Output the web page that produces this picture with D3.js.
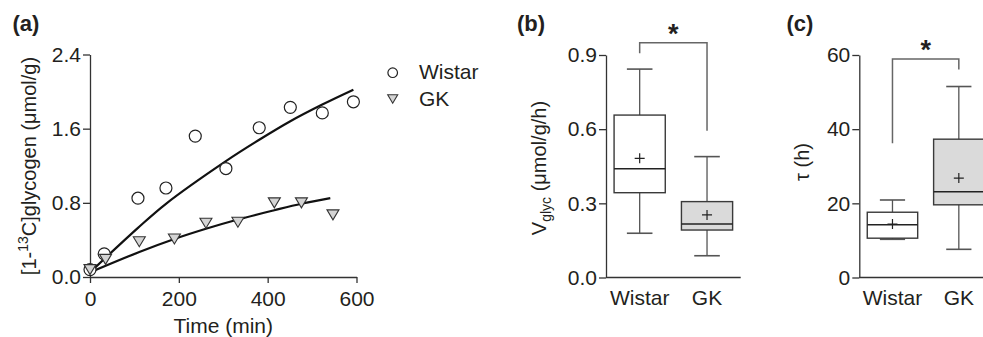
<!DOCTYPE html>
<html>
<head>
<meta charset="utf-8">
<script src="https://cdn.jsdelivr.net/npm/d3@7"></script>
<style>
  body { margin: 0; background: #fff; }
  svg { display: block; font-family: "Liberation Sans", Arial, sans-serif; }
</style>
</head>
<body>
<svg width="983" height="337"></svg>
<script>
// panel (a) data: 13C glycogen vs time
const timesWistar = [0, 32, 108, 171, 237, 306, 381, 451, 523, 593];
const glycWistar = [0.08, 0.25, 0.85, 0.96, 1.52, 1.17, 1.61, 1.83, 1.77, 1.89];
const timesGK = [0, 35, 111, 190, 261, 333, 415, 476, 547];
const glycGK = [0.08, 0.19, 0.38, 0.41, 0.58, 0.59, 0.80, 0.80, 0.67];

// fitted curves
const fitTimesWistar = [0, 108, 171, 306, 381, 451, 523, 593];
const fitWistar = [0.05, 0.53, 0.79, 1.25, 1.48, 1.68, 1.86, 2.02];
const fitTimesGK = [0, 111, 190, 261, 333, 415, 476, 541];
const fitGK = [0.05, 0.27, 0.41, 0.52, 0.62, 0.72, 0.79, 0.85];

const groups = ["Wistar", "GK"];

// panel (b) Vglyc box stats: [low, q1, median, q3, high]
const vglycBox = [[0.179, 0.343, 0.440, 0.657, 0.843], [0.088, 0.192, 0.216, 0.307, 0.489]];
const vglycMean = [0.482, 0.253];
const vglycBracket = [0.907, 0.95, 0.594]; // left leg end, top, right leg end

// panel (c) tau box stats
const tauBox = [[10.3, 10.6, 14.2, 17.6, 20.9], [7.6, 19.6, 23.1, 37.3, 51.5]];
const tauMean = [14.4, 26.8];
const tauBracket = [36.2, 58.9, 56.1];

const textColor = "#231f20";
const lineColor = "#333";

let svg = d3.select("svg");

function styleAxis(g) {
    g.select(".domain").attr("stroke", lineColor).attr("stroke-width", 1.3);
    g.selectAll(".tick line").attr("stroke", lineColor).attr("stroke-width", 1.3);
    g.selectAll(".tick text")
        .attr("fill", textColor)
        .style("font-size", "21px")
        .style("font-family", "'Liberation Sans', Arial, sans-serif");
}

function triPath(w, h) {
    return "M" + (-w / 2) + "," + (-h / 2) + "L" + (w / 2) + "," + (-h / 2) + "L0," + (h / 2) + "Z";
}

function panelLabel(x, txt) {
    svg.append("text")
        .attr("x", x).attr("y", 30.5)
        .style("font-size", "22px")
        .style("font-weight", "bold")
        .attr("fill", textColor)
        .text(txt);
}

// ---------------- panel (a) ----------------
var x = d3.scaleLinear().domain([0, 600]).range([90, 356.5]);
var y = d3.scaleLinear().domain([0, 2.4]).range([277, 54.5]);

svg.append("g")
    .attr("transform", "translate(0," + y(0) + ")")
    .call(d3.axisBottom(x).tickValues([0, 200, 400, 600]).tickSize(6).tickPadding(8).tickSizeOuter(0))
    .call(styleAxis);

svg.append("g")
    .attr("transform", "translate(" + x(0) + ",0)")
    .call(d3.axisLeft(y).tickValues([0, 0.8, 1.6, 2.4]).tickFormat(d3.format(".1f")).tickSize(7).tickPadding(2).tickSizeOuter(0))
    .call(styleAxis);

svg.append("text")
    .attr("x", (x(0) + x(600)) / 2).attr("y", 333)
    .style("text-anchor", "middle")
    .style("font-size", "21px")
    .attr("fill", textColor)
    .text("Time (min)");

let yl = svg.append("text")
    .attr("transform", "translate(36," + 166 + ") rotate(-90)")
    .style("text-anchor", "middle")
    .style("font-size", "20px")
    .attr("fill", textColor);
yl.append("tspan").text("[1-");
yl.append("tspan").attr("dy", -8).style("font-size", "14px").text("13");
yl.append("tspan").attr("dy", 8).text("C]glycogen (\u03bcmol/g)");

let line = d3.line().x(d => x(d[0])).y(d => y(d[1])).curve(d3.curveCatmullRom);

svg.append("path")
    .datum(d3.zip(fitTimesWistar, fitWistar))
    .attr("d", line)
    .attr("fill", "none").attr("stroke", "#111").attr("stroke-width", 2.2);

svg.append("path")
    .datum(d3.zip(fitTimesGK, fitGK))
    .attr("d", line)
    .attr("fill", "none").attr("stroke", "#111").attr("stroke-width", 2.2);

svg.selectAll("circle.wistar")
    .data(d3.zip(timesWistar, glycWistar))
    .enter()
    .append("circle")
    .attr("class", "wistar")
    .attr("cx", d => x(d[0]))
    .attr("cy", d => y(d[1]))
    .attr("r", 6)
    .attr("fill", "#fff")
    .attr("stroke", "#222")
    .attr("stroke-width", 1.2);

svg.selectAll("path.gk")
    .data(d3.zip(timesGK, glycGK))
    .enter()
    .append("path")
    .attr("class", "gk")
    .attr("transform", d => "translate(" + x(d[0]) + "," + y(d[1]) + ")")
    .attr("d", triPath(12, 10))
    .attr("fill", "#d4d4d4")
    .attr("stroke", "#333")
    .attr("stroke-width", 1.1);

// legend
svg.append("circle")
    .attr("cx", 392.7).attr("cy", 72.7).attr("r", 4.8)
    .attr("fill", "#fff").attr("stroke", "#222").attr("stroke-width", 1.2);
svg.append("path")
    .attr("transform", "translate(392.7,99)")
    .attr("d", triPath(10, 8.5))
    .attr("fill", "#d4d4d4").attr("stroke", "#333").attr("stroke-width", 1.1);
svg.append("text").attr("x", 419).attr("y", 78.5)
    .style("font-size", "21px").attr("fill", textColor).text(groups[0]);
svg.append("text").attr("x", 419).attr("y", 105.5)
    .style("font-size", "21px").attr("fill", textColor).text(groups[1]);

panelLabel(12.5, "(a)");

// ---------------- box panels ----------------
function boxPanel(x0, x1, domain, ticks, fmt, boxes, means, bracket, starY) {
    var bx = d3.scaleBand().domain(groups).range([x0, x1]).paddingInner(0.24).paddingOuter(0.12);
    var by = d3.scaleLinear().domain(domain).range([277.5, 55]);

    svg.append("g")
        .attr("transform", "translate(0," + by(0) + ")")
        .call(d3.axisBottom(bx).tickSize(0).tickPadding(13))
        .call(styleAxis)
        .call(g => g.select(".domain").attr("d", "M" + x0 + ",0H" + x1));

    svg.append("g")
        .attr("transform", "translate(" + x0 + ",0)")
        .call(d3.axisLeft(by).tickValues(ticks).tickFormat(fmt).tickSize(7).tickPadding(2).tickSizeOuter(0))
        .call(styleAxis);

    let bw = bx.bandwidth();
    groups.forEach((grp, i) => {
        let s = boxes[i];
        let cx = bx(grp) + bw / 2;
        let g = svg.append("g");
        // whiskers
        g.append("line").attr("x1", cx).attr("x2", cx).attr("y1", by(s[0])).attr("y2", by(s[1]))
            .attr("stroke", "#555").attr("stroke-width", 1.3);
        g.append("line").attr("x1", cx).attr("x2", cx).attr("y1", by(s[3])).attr("y2", by(s[4]))
            .attr("stroke", "#555").attr("stroke-width", 1.3);
        g.append("line").attr("x1", cx - bw / 4).attr("x2", cx + bw / 4).attr("y1", by(s[0])).attr("y2", by(s[0]))
            .attr("stroke", "#555").attr("stroke-width", 1.6);
        g.append("line").attr("x1", cx - bw / 4).attr("x2", cx + bw / 4).attr("y1", by(s[4])).attr("y2", by(s[4]))
            .attr("stroke", "#555").attr("stroke-width", 1.6);
        // box
        g.append("rect")
            .attr("x", bx(grp)).attr("width", bw)
            .attr("y", by(s[3])).attr("height", by(s[1]) - by(s[3]))
            .attr("fill", i == 1 ? "#dadada" : "#fff")
            .attr("stroke", "#3a3a3a").attr("stroke-width", 1.4);
        g.append("line").attr("x1", bx(grp)).attr("x2", bx(grp) + bw).attr("y1", by(s[2])).attr("y2", by(s[2]))
            .attr("stroke", "#222").attr("stroke-width", 1.5);
        // mean marker
        let my = by(means[i]);
        g.append("path")
            .attr("d", "M" + (cx - 5) + "," + my + "H" + (cx + 5) + "M" + cx + "," + (my - 5) + "V" + (my + 5))
            .attr("stroke", "#222").attr("stroke-width", 1.2);
    });

    // significance bracket
    let c0 = bx(groups[0]) + bw / 2, c1 = bx(groups[1]) + bw / 2;
    svg.append("path")
        .attr("d", "M" + c0 + "," + by(bracket[0]) + "V" + by(bracket[1]) + "H" + c1 + "V" + by(bracket[2]))
        .attr("fill", "none").attr("stroke", "#666").attr("stroke-width", 1.5);
    svg.append("text")
        .attr("x", (c0 + c1) / 2).attr("y", starY)
        .style("text-anchor", "middle")
        .style("font-size", "27px").style("font-weight", "bold")
        .attr("fill", textColor)
        .text("*");
    return by;
}

boxPanel(606, 740.7, [0, 0.9], [0, 0.3, 0.6, 0.9], d3.format(".1f"), vglycBox, vglycMean, vglycBracket, 42.5);

let vl = svg.append("text")
    .attr("transform", "translate(546," + 168 + ") rotate(-90)")
    .style("text-anchor", "middle")
    .style("font-size", "20px")
    .attr("fill", textColor);
vl.append("tspan").text("V");
vl.append("tspan").attr("dy", 5).style("font-size", "14px").text("glyc");
vl.append("tspan").attr("dy", -5).text(" (\u03bcmol/g/h)");

panelLabel(517, "(b)");

boxPanel(859.3, 992, [0, 60], [0, 20, 40, 60], d3.format("d"), tauBox, tauMean, tauBracket, 58.5);

svg.append("text")
    .attr("transform", "translate(808.5," + 162 + ") rotate(-90)")
    .style("text-anchor", "middle")
    .style("font-size", "20px")
    .attr("fill", textColor)
    .text("\u03c4 (h)");

panelLabel(786.5, "(c)");
</script>
</body>
</html>
